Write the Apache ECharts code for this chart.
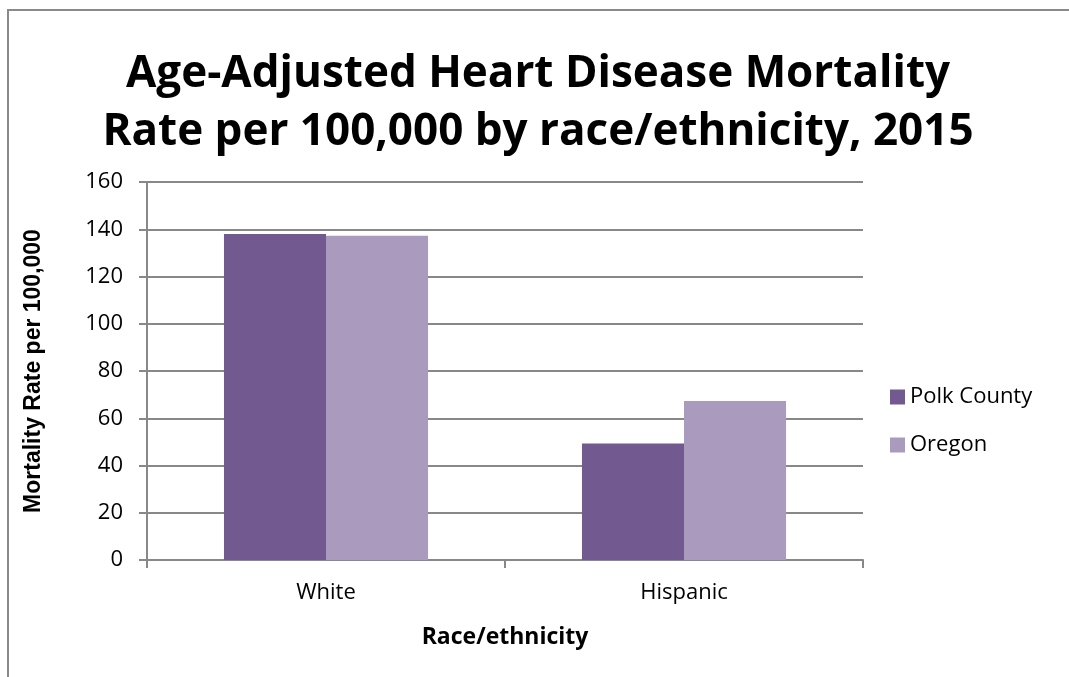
<!DOCTYPE html>
<html><head><meta charset="utf-8">
<script src="https://cdn.jsdelivr.net/npm/echarts@6/dist/echarts.min.js"></script>
<style>html,body{margin:0;padding:0;background:#fff}#c{width:1069px;height:677px}</style>
</head><body><div id="c"></div>
<script>
const categories = ['White', 'Hispanic'];
const polkCounty = [138, 49.3];
const oregon = [137.2, 67.3];
const yTicks = [0, 20, 40, 60, 80, 100, 120, 140, 160];

const chart = echarts.init(document.getElementById('c'));
const F = '"Open Sans", "Noto Sans", sans-serif';
chart.setOption({
  animation: false,
  backgroundColor: '#fff',
  title: {
    text: 'Age-Adjusted Heart Disease Mortality\nRate per 100,000 by race/ethnicity, 2015',
    left: 533, top: 40, textAlign: 'center',
    textStyle: { fontFamily: F, fontWeight: 'bold', fontSize: 44, lineHeight: 58, color: '#000' }
  },
  graphic: [{ type: 'rect', shape: { x: 8, y: 10, width: 1100, height: 700 }, style: { fill: 'none', stroke: '#8a8a8a', lineWidth: 2 }, silent: true }],
  legend: {
    orient: 'vertical', left: 885, top: 381, itemWidth: 15, itemHeight: 15, itemGap: 26,
    icon: 'rect',
    textStyle: { fontFamily: F, fontSize: 22, color: '#000' },
    data: ['Polk County', 'Oregon']
  },
  grid: { left: 147, top: 182, width: 716, height: 378 },
  xAxis: {
    type: 'category', data: categories,
    name: 'Race/ethnicity', nameLocation: 'middle', nameGap: 66,
    nameTextStyle: { fontFamily: F, fontWeight: 'bold', fontSize: 23, color: '#000' },
    axisLine: { lineStyle: { color: '#888', width: 2 } },
    axisTick: { show: true, length: 8, lineStyle: { color: '#888', width: 2 } },
    axisLabel: { fontFamily: F, fontSize: 22, color: '#000', margin: 22 }
  },
  yAxis: {
    type: 'value', min: 0, max: 160, interval: 20,
    name: 'Mortality Rate per 100,000', nameLocation: 'middle', nameGap: 102, nameRotate: 90,
    nameTextStyle: { fontFamily: '"Liberation Sans", Arial, sans-serif', fontWeight: 'bold', fontSize: 23, color: '#000' },
    axisLine: { show: true, lineStyle: { color: '#888', width: 2 } },
    axisTick: { show: true, length: 8, inside: false, lineStyle: { color: '#888', width: 2 } },
    splitLine: { lineStyle: { color: '#888', width: 2 } },
    axisLabel: { fontFamily: F, fontSize: 22, color: '#000', margin: 24,
      formatter: v => yTicks.includes(v) ? String(v) : '' }
  },
  series: [
    { name: 'Polk County', type: 'bar', data: polkCounty, barGap: '0%', barCategoryGap: '43%',
      itemStyle: { color: '#725990' } },
    { name: 'Oregon', type: 'bar', data: oregon,
      itemStyle: { color: '#a99abe' } }
  ]
});
</script></body></html>
